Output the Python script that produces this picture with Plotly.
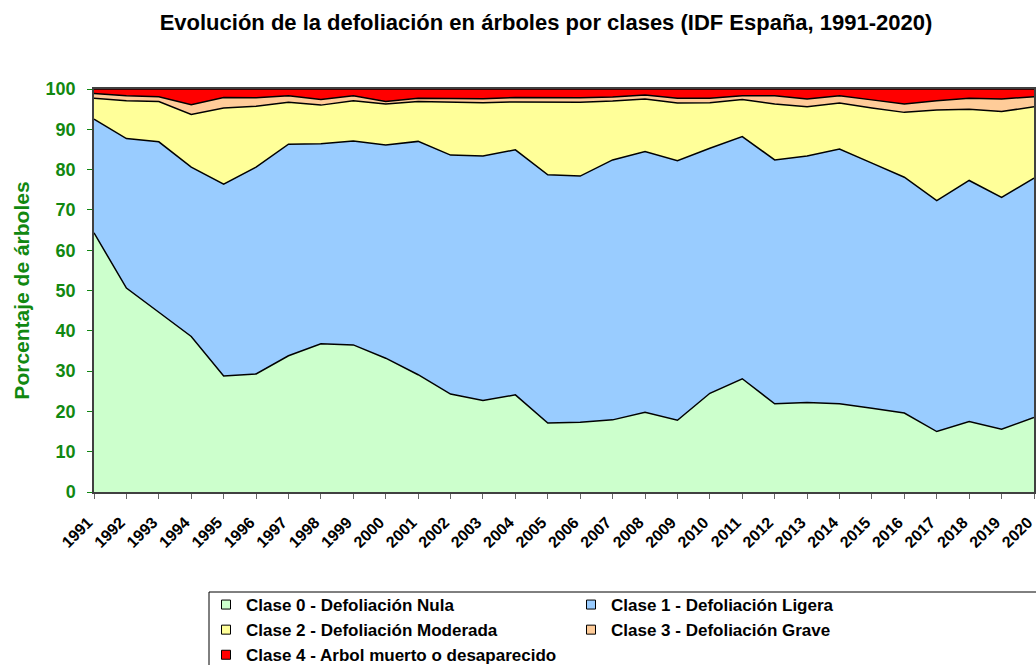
import plotly.graph_objects as go

years = [str(y) for y in range(1991, 2021)]

clase0 = [64.3, 50.6, 44.6, 38.6, 28.8, 29.3, 33.8, 36.8, 36.5, 33.2, 29.1, 24.3, 22.7, 24.1, 17.1,
          17.3, 17.9, 19.8, 17.8, 24.5, 28.1, 21.9, 22.2, 21.9, 20.8, 19.6, 15.0, 17.5, 15.6, 18.5]
clase1 = [28.2, 37.1, 42.3, 42.0, 47.6, 51.3, 52.5, 49.6, 50.6, 52.9, 57.9, 59.3, 60.7, 60.8, 61.6,
          61.1, 64.5, 64.7, 64.4, 60.8, 60.1, 60.5, 61.2, 63.2, 60.8, 58.5, 57.3, 59.8, 57.5, 59.4]
clase2 = [5.2, 9.4, 10.0, 13.1, 18.9, 15.1, 10.4, 9.6, 10.0, 10.2, 9.9, 13.2, 13.2, 11.9, 18.1,
          18.3, 14.6, 13.0, 14.3, 11.3, 9.2, 13.9, 12.2, 11.4, 13.7, 16.1, 22.5, 17.7, 21.3, 17.7]
clase3 = [1.2, 1.2, 1.2, 2.4, 2.6, 2.1, 1.6, 1.4, 1.2, 0.6, 0.8, 0.9, 1.0, 1.1, 1.1,
          1.1, 1.0, 1.0, 1.2, 1.1, 0.9, 2.0, 1.9, 1.8, 2.0, 2.1, 2.3, 2.7, 3.1, 2.5]
clase4 = [1.1, 1.7, 1.9, 3.9, 2.1, 2.2, 1.7, 2.6, 1.7, 3.1, 2.3, 2.3, 2.4, 2.1, 2.1,
          2.2, 2.0, 1.5, 2.3, 2.3, 1.7, 1.7, 2.5, 1.7, 2.7, 3.7, 2.9, 2.3, 2.5, 1.9]

series = [
    ("Clase 0 - Defoliación Nula", clase0, "#CCFFCC"),
    ("Clase 1 - Defoliación Ligera", clase1, "#99CCFF"),
    ("Clase 2 - Defoliación Moderada", clase2, "#FFFF99"),
    ("Clase 3 - Defoliación Grave", clase3, "#FFCC99"),
    ("Clase 4 - Arbol muerto o desaparecido", clase4, "#FF0000"),
]

FONT = "Arial, Liberation Sans, sans-serif"
GREEN = "#118811"

# plot area in pixels
L, R, T, B = 94, 2, 89, 173
W, H = 1036, 665
PW, PH = W - L - R, H - T - B


def px_x(p):
    return (p - L) / PW


def px_y(p):
    return (H - B - p) / PH


fig = go.Figure()
for name, vals, col in series:
    fig.add_trace(go.Scatter(
        x=years, y=vals, name=name, mode="lines", stackgroup="one",
        line=dict(color="black", width=1.5), fillcolor=col, showlegend=False,
        hoverinfo="skip"))
for name, vals, col in series:
    fig.add_trace(go.Scatter(
        x=[None], y=[None], name=name, mode="markers",
        marker=dict(symbol="square", size=9, color=col, line=dict(color="black", width=1)),
        showlegend=True))

# legend frame
fig.add_shape(type="rect", xref="paper", yref="paper",
              x0=px_x(209), x1=px_x(1040), y0=px_y(670), y1=px_y(592),
              line=dict(color="black", width=1), fillcolor="rgba(0,0,0,0)", layer="above")

fig.update_layout(
    width=W, height=H,
    margin=dict(l=L, r=R, t=T, b=B, autoexpand=False),
    paper_bgcolor="white", plot_bgcolor="white",
    font=dict(family=FONT, color="black"),
    title=dict(text="<b>Evolución de la defoliación en árboles por clases (IDF España, 1991-2020)</b>",
               x=546 / W, xanchor="center", y=1 - 22 / H, yanchor="middle",
               font=dict(size=22, color="black", family=FONT)),
    xaxis=dict(type="category", range=[0, 29], tickangle=-45, automargin=False,
               ticks="outside", ticklen=5, tickcolor="#666666",
               tickfont=dict(size=16, weight="bold", color="black"),
               ticklabelstandoff=8, ticklabelshift=-6,
               showline=True, linecolor="#404040", linewidth=1.5, mirror=True,
               showgrid=False, zeroline=False),
    yaxis=dict(range=[0, 100], dtick=10, ticks="outside", ticklen=5, tickcolor=GREEN,
               automargin=False,
               tickfont=dict(size=18, weight="bold", color=GREEN), ticklabelstandoff=8,
               showline=True, linecolor="#404040", linewidth=1.5, mirror=True,
               showgrid=False, zeroline=False,
               title=dict(text="Porcentaje de árboles", standoff=10,
                          font=dict(size=21, weight="bold", color=GREEN))),
    legend=dict(orientation="h", x=px_x(206), xanchor="left", y=px_y(587), yanchor="top",
                entrywidth=320, borderwidth=0, traceorder="normal",
                font=dict(size=17, weight="bold", color="black"),
                itemwidth=30, tracegroupgap=0, bgcolor="rgba(0,0,0,0)"),
)

fig.write_html("out.html", config={"displayModeBar": False},
               post_script="document.body.style.margin='0px';")
